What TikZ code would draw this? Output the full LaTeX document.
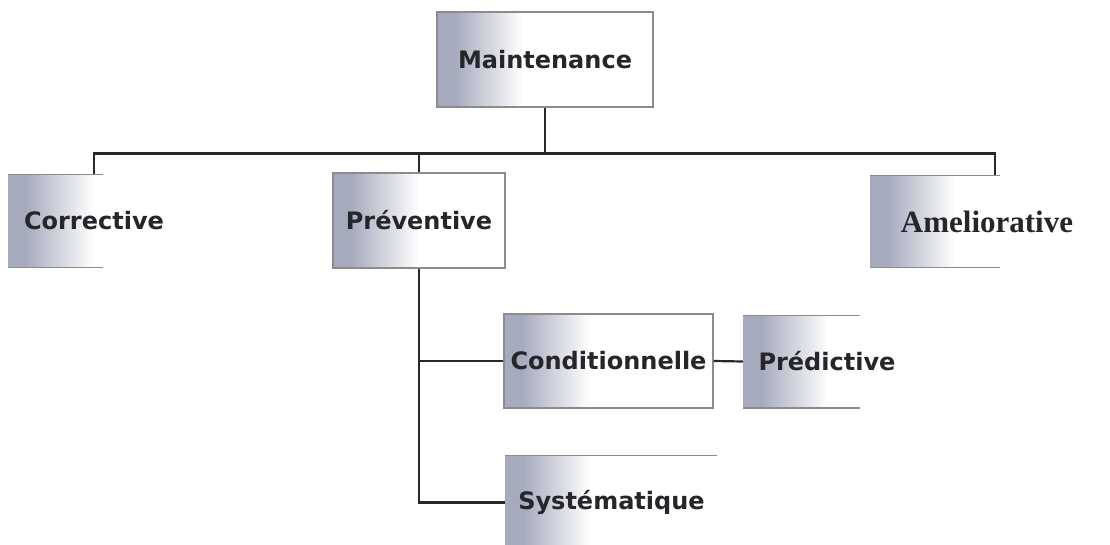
\documentclass[tikz,border=0pt]{standalone}
\usepackage{fontspec}
\newfontfamily\boxfont{DejaVu Sans}
\newfontfamily\serifbox{Liberation Serif}
\definecolor{shadec}{RGB}{166,170,189}
\definecolor{txtc}{RGB}{38,38,42}
\definecolor{edgec}{RGB}{140,140,140}
\definecolor{linec}{RGB}{40,40,40}
\tikzset{
  base/.style={rectangle, inner sep=0pt, text=txtc, font=\boxfont\bfseries\fontsize{24}{28}\selectfont,
    path picture={
      \foreach \i [evaluate=\i as \p using {100*max(0,min(1,(85-2*\i)/68))}] in {0,...,44}{
        \fill[shadec!\p!white] ([xshift=2*\i pt]path picture bounding box.south west) rectangle ([xshift=2*\i pt+2.6pt]path picture bounding box.north west);
      }
      \draw[edgec, line width=1.8pt] (path picture bounding box.north west) -- ([xshift=#1]path picture bounding box.north west)
        (path picture bounding box.south west) -- ([xshift=#1]path picture bounding box.south west);
    }},
  fullbox/.style={base=0pt, draw=edgec, line width=1.3pt},
  openbox/.style={base=#1},
  conn/.style={draw=linec, line width=2.2pt},
}
\begin{document}
\begin{tikzpicture}[x=1pt, y=-1pt]
\useasboundingbox (0,0) rectangle (1110,545);
\fill[white] (0,0) rectangle (1110,545);
\node[fullbox, minimum width=216pt, minimum height=95pt] (mnt) at (545,59.5) {Maintenance};
\node[openbox=95pt, minimum width=172pt, minimum height=93pt] (cor) at (94,221) {Corrective};
\node[fullbox, minimum width=172pt, minimum height=95pt] (pre) at (419,220.5) {Préventive};
\node[openbox=130pt, minimum width=234pt, minimum height=92pt, font=\serifbox\bfseries\fontsize{31}{34}\selectfont] (ame) at (987,221.5) {Ameliorative};
\node[fullbox, minimum width=209pt, minimum height=94pt] (con) at (608.5,361) {Conditionnelle};
\node[openbox=117pt, minimum width=168pt, minimum height=93pt] (pred) at (827,361.5) {Prédictive};
\node[openbox=212pt, minimum width=213pt, minimum height=95pt] (sys) at (611.5,502.5) {Systématique};
\coordinate (bus) at (0,153.5);
\coordinate (amein) at ([xshift=8pt]ame.north);
\draw[conn] (cor.north) -- (cor.north |- bus) -- (amein |- bus) -- (amein);
\draw[conn] (mnt.south) -- (mnt.south |- bus);
\draw[conn] (pre.north) -- (pre.north |- bus);
\draw[conn] (pre.south) -- (pre.south |- sys.west) -- (sys.west);
\draw[conn] (pre.south |- con.west) -- (con.west);
\draw[conn] (con.east) -- (pred.west);
\end{tikzpicture}
\end{document}
